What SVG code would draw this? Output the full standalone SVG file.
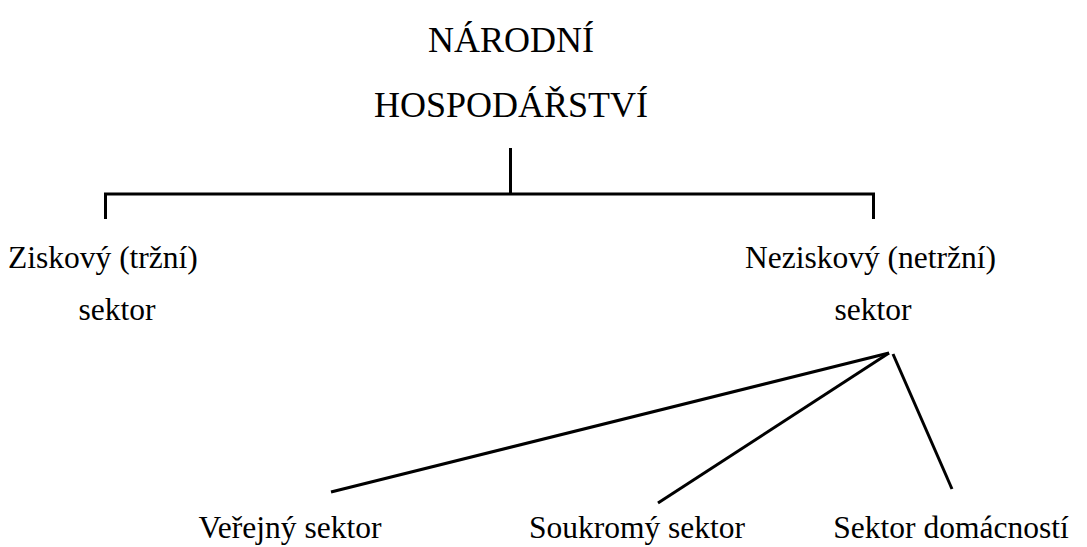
<svg xmlns="http://www.w3.org/2000/svg" width="1087" height="547" viewBox="0 0 1087 547">
<style>
text{font-family:"Liberation Serif","Times New Roman",serif;fill:#000;}
.t{font-size:36px;text-anchor:middle;}
.l{font-size:31.5px;}
.c{font-size:31.5px;text-anchor:middle;}
.ln{stroke:#000;stroke-width:3;fill:none;}
</style>
<rect width="1087" height="547" fill="#fff"/>
<g id="connectors">
<polyline class="ln" points="105.5,219 105.5,194 873.5,194 873.5,219"/>
<line class="ln" x1="510.5" y1="148" x2="510.5" y2="194"/>
<line class="ln" x1="889" y1="353" x2="331" y2="492"/>
<line class="ln" x1="889" y1="353" x2="658" y2="503"/>
<line class="ln" x1="893" y1="354" x2="952" y2="489"/>
</g>
<g id="root"><text class="t" x="511" y="52">NÁRODNÍ</text><text class="t" x="511" y="117">HOSPODÁŘSTVÍ</text></g>
<g id="ziskovy"><text class="l" x="8" y="268">Ziskový (tržní)</text><text class="c" x="117" y="320">sektor</text></g>
<g id="neziskovy"><text class="l" x="745" y="268">Neziskový (netržní)</text><text class="c" x="873" y="320">sektor</text></g>
<g id="verejny"><text class="c" x="290" y="538">Veřejný sektor</text></g>
<g id="soukromy"><text class="c" x="637" y="538">Soukromý sektor</text></g>
<g id="domacnosti"><text class="c" x="951" y="538">Sektor domácností</text></g>
</svg>
